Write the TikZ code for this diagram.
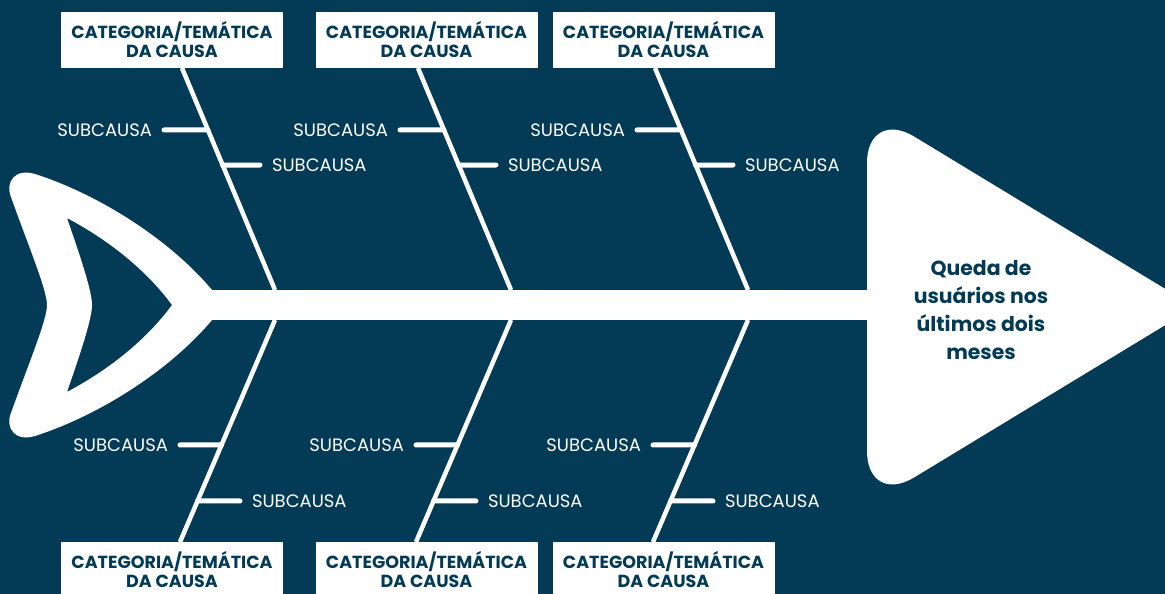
\documentclass[tikz,border=0pt]{standalone}
\usepackage{fontspec}
\setmainfont{Poppins}
\usetikzlibrary{calc}
\definecolor{fbnavy}{HTML}{033B57}
\tikzset{fbbox/.style={fill=white,minimum width=222pt,minimum height=56pt,inner sep=0pt,align=center,
           text=fbnavy,font=\fontsize{17.5}{19}\selectfont\bfseries},
         fbsub/.style={text=white,inner sep=0pt,outer sep=12pt,font=\fontsize{18}{20}\selectfont},
         fbbone/.style={white,line width=4.5pt},
         fbtwig/.style={white,line width=5pt,line cap=round},
         fbhead/.style={text=fbnavy,align=center,font=\fontsize{20.4}{28}\selectfont\bfseries}}

\begin{document}
\begin{tikzpicture}[x=1pt,y=-1pt]
    \fill[fbnavy] (0,0) rectangle (1165,594);
    \useasboundingbox (0,0) rectangle (1165,594);
    \clip (0,0) rectangle (1165,594);
    % spine and tail
    \coordinate (tail) at (190,305); \coordinate (neck) at (900,305);
    \draw[white,line width=30pt] (tail) -- (neck);
    \fill[white,even odd rule] (212,290) .. controls (170,240) and (100,195) .. (35,174)
        .. controls (15,168) and (5,182) .. (11,197) .. controls (30,250) and (47,290) .. (47,305)
        .. controls (47,320) and (30,360) .. (11,413) .. controls (5,428) and (15,442) .. (35,436)
        .. controls (100,415) and (170,370) .. (212,320) -- cycle
      (67,218) .. controls (105,238) and (145,268) .. (172,305) .. controls (145,342) and (105,372) .. (67,392)
        .. controls (78,360) and (92,320) .. (92,305) .. controls (92,290) and (78,250) .. (67,218) -- cycle;
    % bones
    \foreach \x/\c/\n in {182/172/a,418/426.5/b,655/663.5/c}
      {\node[fbbox] (\n top) at (\c,40) {CATEGORIA/TEMÁTICA\\DA CAUSA};
       \node[fbbox] (\n bot) at (\c,570) {CATEGORIA/TEMÁTICA\\DA CAUSA};
       \coordinate (\n1) at (\x,68); \coordinate (\n2) at (\x+93,290);
       \coordinate (\n3) at (\x+93,320); \coordinate (\n4) at (\x-2,542);
       \draw[fbbone] (\n1) -- (\n2); \draw[fbbone] (\n3) -- (\n4);
       \coordinate (\n5) at ($(\n1)!0.279!(\n2)$); \coordinate (\n6) at ($(\n1)!0.437!(\n2)$);
       \coordinate (\n7) at ($(\n3)!0.563!(\n4)$); \coordinate (\n8) at ($(\n3)!0.815!(\n4)$);
       \node[fbsub,anchor=east] (\n s1) at (\x-18,130) {SUBCAUSA};
       \node[fbsub,anchor=west] (\n s2) at (\x+78,165) {SUBCAUSA};
       \node[fbsub,anchor=east] (\n s3) at (\x-2,445) {SUBCAUSA};
       \node[fbsub,anchor=west] (\n s4) at (\x+58,501) {SUBCAUSA};
       \draw[fbtwig] (\n5) -- (\n s1); \draw[fbtwig] (\n6) -- (\n s2);
       \draw[fbtwig] (\n7) -- (\n s3); \draw[fbtwig] (\n8) -- (\n s4);}
    % head
    \fill[white] (1195,307) [rounded corners=55pt] -- (867,108) -- (867,506) [sharp corners] -- cycle;
    \node[fbhead] (head) at (981,310) {Queda de\\usuários nos\\últimos dois\\meses};
  \end{tikzpicture}
\end{document}
